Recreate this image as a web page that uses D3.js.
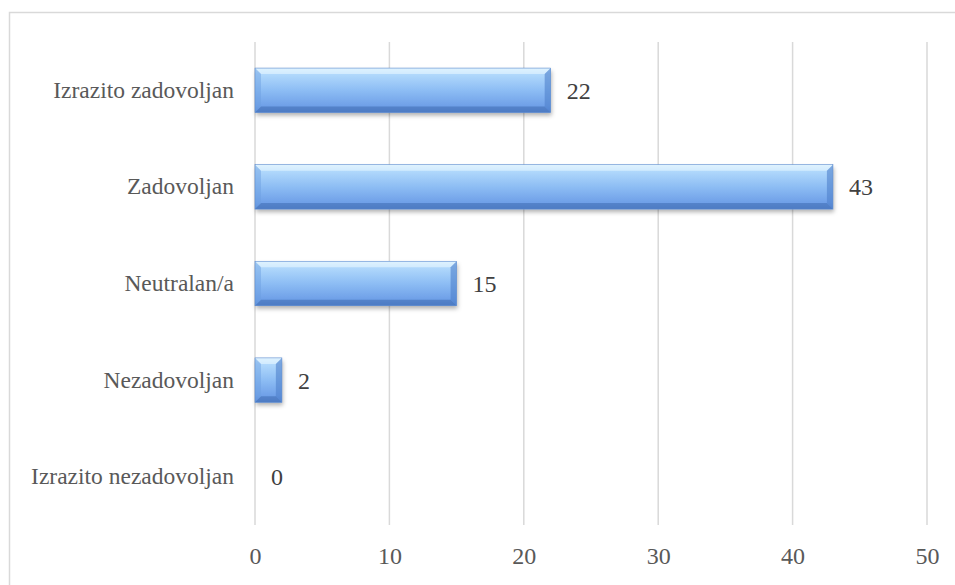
<!DOCTYPE html>
<html><head><meta charset="utf-8">
<script src="https://cdn.jsdelivr.net/npm/d3@7/dist/d3.min.js"></script>
<style>body{margin:0;background:#fff}svg{display:block}
.t{font-family:"Liberation Serif","Tinos","Times New Roman","DejaVu Serif",serif}</style>
</head><body>
<svg id="chart" width="955" height="585"></svg>
<script>
const categories = ["Izrazito zadovoljan","Zadovoljan","Neutralan/a","Nezadovoljan","Izrazito nezadovoljan"];
const values = [22,43,15,2,0];
const tickValues = [0,10,20,30,40,50];

const svg = d3.select("#chart");
const W = 955, H = 585;
const m = {left:255, right:28, top:42, bottom:60};
const textColor = "#595959";

svg.append("rect").attr("x",9.5).attr("y",12.5).attr("width",980).attr("height",620)
  .attr("fill","#fff").attr("stroke","#d9d9d9").attr("stroke-width",1.5);

const x = d3.scaleLinear().domain([0,50]).range([m.left, W-m.right]);
const y = d3.scaleBand().domain(categories).range([m.top, H-m.bottom]).paddingInner(0.54).paddingOuter(0.27);

const defs = svg.append("defs");
const g = defs.append("linearGradient").attr("id","barg").attr("x1",0).attr("y1",0).attr("x2",0).attr("y2",1);
[[0,"#d2ecfd"],[0.12,"#b3dafc"],[0.5,"#8dbdf4"],[0.85,"#6f a0e8".replace(" ","")],[1,"#5a8ad6"]].forEach(s=>g.append("stop").attr("offset",s[0]).attr("stop-color",s[1]));
const f = defs.append("filter").attr("id","shadow").attr("x","-10%").attr("y","-20%").attr("width","130%").attr("height","160%");
f.append("feDropShadow").attr("dx",1).attr("dy",3).attr("stdDeviation",2.2).attr("flood-color","#000").attr("flood-opacity",0.3);

// gridlines
svg.append("g").selectAll("line").data(tickValues).join("line")
  .attr("x1",d=>x(d)).attr("x2",d=>x(d)).attr("y1",m.top).attr("y2",H-m.bottom)
  .attr("stroke","#d9d9d9").attr("stroke-width",1.5);

// tick labels
const xAxis = svg.append("g").attr("transform",`translate(0,${H-m.bottom})`)
  .call(d3.axisBottom(x).tickValues(tickValues).tickSize(0).tickPadding(22).tickFormat(d3.format("d")));
xAxis.select(".domain").remove();
xAxis.attr("font-family",null).attr("font-size",null);
xAxis.selectAll("text").attr("class","t").style("font-size","24px").attr("fill",textColor);

// category labels
const yAxis = svg.append("g").attr("transform",`translate(${m.left},0)`)
  .call(d3.axisLeft(y).tickSize(0).tickPadding(21));
yAxis.select(".domain").remove();
yAxis.attr("font-family",null).attr("font-size",null);
yAxis.selectAll("text").attr("class","t").style("font-size","23.5px").attr("fill",textColor);

// bars
const bh = y.bandwidth();
const data = categories.map((c,i)=>({c,v:values[i]}));
const bars = svg.append("g").selectAll("g").data(data).join("g")
  .attr("transform",d=>`translate(${x(0)},${y(d.c)})`);
bars.filter(d=>d.v>0).each(function(d){
  const w = x(d.v)-x(0);
  const b = Math.min(6, w/2);
  const gg = d3.select(this);
  gg.append("rect").attr("width",w).attr("height",bh).attr("fill","url(#barg)").attr("filter","url(#shadow)");
  gg.append("polygon").attr("points",`0,0 ${w},0 ${w-b},${b} ${b},${b}`).attr("fill","#e8f6ff").attr("opacity",0.6);
  gg.append("polygon").attr("points",`0,${bh} ${w},${bh} ${w-b},${bh-b} ${b},${bh-b}`).attr("fill","#4471b8").attr("opacity",0.6);
  gg.append("polygon").attr("points",`0,0 ${b},${b} ${b},${bh-b} 0,${bh}`).attr("fill","#6b9de0").attr("opacity",0.45);
  gg.append("polygon").attr("points",`${w},0 ${w-b},${b} ${w-b},${bh-b} ${w},${bh}`).attr("fill","#4f80cc").attr("opacity",0.6);
  gg.append("rect").attr("width",w).attr("height",bh).attr("fill","none").attr("stroke","#5d8cd0").attr("stroke-width",0.6);
});

// value labels
svg.append("g").selectAll("text").data(data).join("text")
  .attr("class","t")
  .attr("x",d=>x(d.v)+16).attr("y",d=>y(d.c)+bh/2).attr("dy","0.35em")
  .style("font-size","24px").attr("fill","#404040")
  .text(d=>d.v);
</script>
</body></html>
